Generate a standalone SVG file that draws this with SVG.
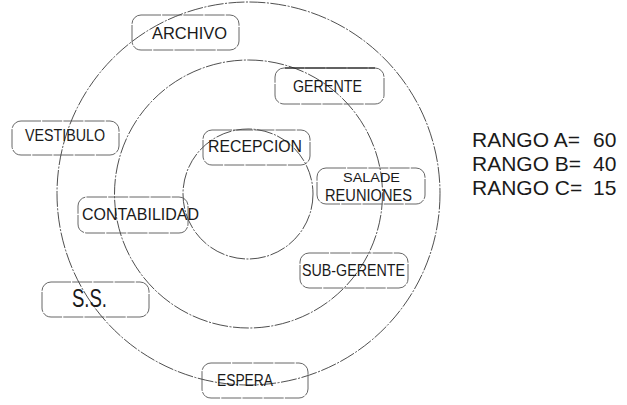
<svg xmlns="http://www.w3.org/2000/svg" width="627" height="405" viewBox="0 0 627 405">
<style>
.ring{fill:none;stroke:#222;stroke-width:0.8;stroke-dasharray:16 1.5 2 1.5}
.box{fill:none;stroke:#555;stroke-width:0.9;stroke-dasharray:20 1.2}
.lbl{font-family:"Liberation Sans",Arial,sans-serif;font-size:17px;fill:#1a1a1a}
.leg{font-family:"Liberation Sans",Arial,sans-serif;font-size:21px;fill:#1a1a1a}
</style>
<rect width="627" height="405" fill="#fff"/>
<g id="rings">
<circle class="ring" cx="248.5" cy="193.5" r="191.5"/>
<circle class="ring" cx="248.5" cy="194" r="134"/>
<circle class="ring" cx="248" cy="194" r="65"/>
</g>
<g id="archivo"><rect class="box" x="132" y="15" width="107" height="35" rx="9"/><text class="lbl" x="152" y="38.5" textLength="75" lengthAdjust="spacingAndGlyphs">ARCHIVO</text></g>
<g id="gerente"><rect class="box" x="275" y="68" width="109" height="36" rx="9"/><line x1="285" y1="68" x2="375" y2="68" stroke="#111" stroke-width="1"/><text class="lbl" x="293" y="92" textLength="69" lengthAdjust="spacingAndGlyphs">GERENTE</text></g>
<g id="vestibulo"><rect class="box" x="12" y="121" width="107" height="34" rx="9"/><text class="lbl" x="25" y="140.5" textLength="80" lengthAdjust="spacingAndGlyphs">VESTIBULO</text></g>
<g id="recepcion"><rect class="box" x="203" y="130" width="107" height="35" rx="9"/><text class="lbl" x="208" y="152" textLength="94" lengthAdjust="spacingAndGlyphs">RECEPCION</text></g>
<g id="sala"><rect class="box" x="317" y="168" width="108" height="36" rx="9"/><text class="lbl" x="343" y="182" style="font-size:13.5px" textLength="57" lengthAdjust="spacingAndGlyphs">SALADE</text><text class="lbl" x="325" y="201" textLength="87" lengthAdjust="spacingAndGlyphs">REUNIONES</text></g>
<g id="contabilidad"><rect class="box" x="78" y="197" width="110" height="36" rx="9"/><text class="lbl" x="82" y="220" textLength="117" lengthAdjust="spacingAndGlyphs">CONTABILIDAD</text></g>
<g id="subgerente"><rect class="box" x="300" y="253" width="108" height="35" rx="9"/><text class="lbl" x="302" y="276" textLength="103" lengthAdjust="spacingAndGlyphs">SUB-GERENTE</text></g>
<g id="ss"><rect class="box" x="42" y="282" width="107" height="35" rx="9"/><text class="lbl" x="72" y="307" style="font-size:25px" textLength="35" lengthAdjust="spacingAndGlyphs">S.S.</text></g>
<g id="espera"><rect class="box" x="202" y="363" width="106" height="35" rx="9"/><text class="lbl" x="217" y="386" textLength="56" lengthAdjust="spacingAndGlyphs">ESPERA</text></g>
<g id="legend">
<text class="leg" x="472" y="147">RANGO A= <tspan x="593">60</tspan></text>
<text class="leg" x="472" y="171">RANGO B= <tspan x="593">40</tspan></text>
<text class="leg" x="472" y="195">RANGO C= <tspan x="593">15</tspan></text>
</g>
</svg>
